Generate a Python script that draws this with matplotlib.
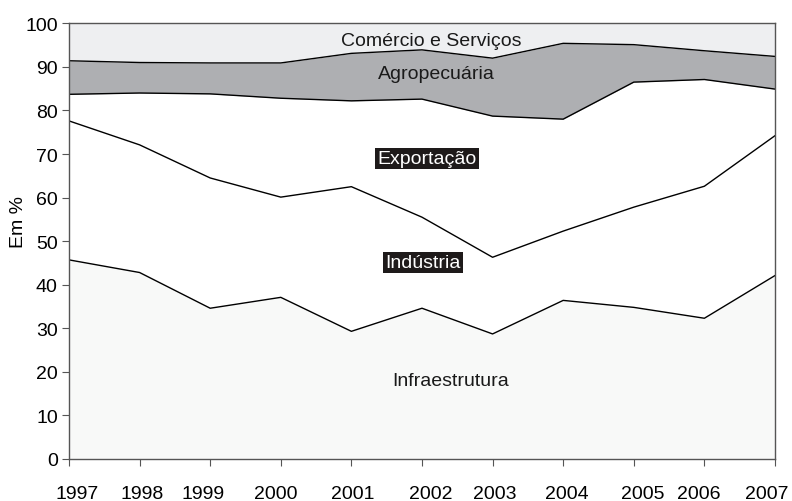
import matplotlib
matplotlib.use("Agg")
import matplotlib.pyplot as plt
import matplotlib.transforms as mtransforms
import numpy as np

years = [1997, 1998, 1999, 2000, 2001, 2002, 2003, 2004, 2005, 2006, 2007]
# cumulative boundaries (Em %)
infraestrutura = [45.7, 42.8, 34.6, 37.1, 29.3, 34.6, 28.7, 36.4, 34.8, 32.3, 42.1]
industria_top = [77.6, 72.1, 64.5, 60.1, 62.5, 55.5, 46.3, 52.3, 57.8, 62.6, 74.2]
exportacao_top = [83.7, 84.0, 83.8, 82.8, 82.2, 82.6, 78.7, 78.0, 86.5, 87.1, 84.9]
agropecuaria_top = [91.4, 91.0, 90.9, 90.9, 93.1, 93.9, 92.0, 95.4, 95.1, 93.7, 92.4]
total = [100] * len(years)

plt.rcParams["font.family"] = ["Liberation Sans", "DejaVu Sans"]

fig = plt.figure(figsize=(7.92, 5.02), dpi=100)
ax = fig.add_axes([0.0871, 0.0837, 0.8914, 0.8679])

x = np.array(years)
ax.fill_between(x, 0, infraestrutura, color="#f8f9f8", lw=0)
ax.fill_between(x, infraestrutura, industria_top, color="white", lw=0)
ax.fill_between(x, industria_top, exportacao_top, color="white", lw=0)
ax.fill_between(x, exportacao_top, agropecuaria_top, color="#aeafb2", lw=0)
ax.fill_between(x, agropecuaria_top, total, color="#eeeff1", lw=0)

for s in [infraestrutura, industria_top, exportacao_top, agropecuaria_top]:
    ax.plot(x, s, color="black", lw=1.0)

ax.set_xlim(1997, 2007)
ax.set_ylim(0, 100)
ax.set_xticks(years)
ax.set_xticklabels([str(y) for y in years])
ax.set_yticks(range(0, 101, 10))

for sp in ax.spines.values():
    sp.set_color("#555555")
    sp.set_linewidth(1.0)

ax.tick_params(axis="x", direction="out", length=5, pad=14, labelsize=14, color="#555555")
ax.tick_params(axis="y", direction="out", length=5, pad=3, labelsize=14, color="#555555")
ax.set_ylabel("Em %", fontsize=14)
ax.yaxis.set_label_coords(-0.0595, 0.546)

# the year labels sit a little off their ticks in the original
shifts = [8, 3, -7, -5, 1, 9, 2, 4, 9, -6, -8]
for lbl, dx in zip(ax.get_xticklabels(), shifts):
    lbl.set_transform(lbl.get_transform() + mtransforms.ScaledTranslation(dx / 100, 0, fig.dpi_scale_trans))

ax.text(2002.13, 96.1, "Comércio e Serviços", ha="center", va="center", fontsize=14, color="#1a1a1a")
ax.text(2002.2, 88.4, "Agropecuária", ha="center", va="center", fontsize=14, color="#1a1a1a")
ax.text(2002.07, 69.0, "Exportação", ha="center", va="center", fontsize=14, color="white",
        bbox=dict(boxstyle="square,pad=0.12", facecolor="#1e1a1a", edgecolor="none"))
ax.text(2002.02, 45.1, "Indústria", ha="center", va="center", fontsize=14, color="white",
        bbox=dict(boxstyle="square,pad=0.12", facecolor="#1e1a1a", edgecolor="none"))
ax.text(2002.4, 17.9, "Infraestrutura", ha="center", va="center", fontsize=14, color="#1a1a1a")

plt.savefig("out.png", dpi=100, facecolor="white")
plt.close(fig)
